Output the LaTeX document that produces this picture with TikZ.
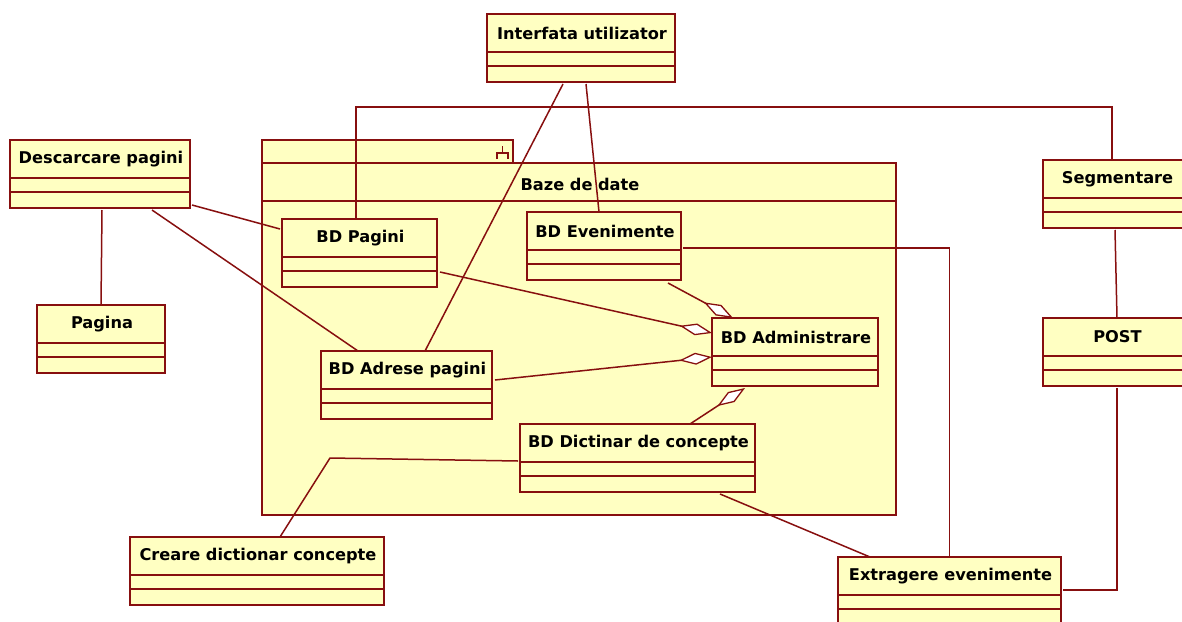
\documentclass[tikz,border=0pt]{standalone}
\usepackage{fontspec}
\setmainfont{DejaVu Sans}
\usetikzlibrary{arrows.meta,calc}
\definecolor{umlred}{RGB}{135,15,15}
\definecolor{umlfill}{RGB}{255,255,194}
\tikzset{
  clsbox/.style={draw=umlred, fill=umlfill, line width=1.6pt, rectangle, inner sep=0pt, outer sep=0pt},
  clstext/.style={font=\fontsize{16.2}{19}\selectfont\bfseries, text=black, inner sep=0pt},
  umlline/.style={draw=umlred, line width=1.6pt},
  conn/.style={draw=umlred, line width=1.5pt},
  agg/.style={conn, -{Diamond[fill=white, length=33pt, width=12pt, line width=1.3pt]}},
}
\newcommand{\umlclass}[6]{%
  \node[clsbox, anchor=north west, minimum width={(#4-#2)*1pt}, minimum height={(#5-#3)*1pt}] (#1) at (#2,#3) {};
  \draw[umlline] (#2,{#3+38}) -- (#4,{#3+38});
  \draw[umlline] (#2,{#3+52}) -- (#4,{#3+52});
  \node[clstext] (#1-t) at ({(#2+#4)/2+1},{#3+19}) {#6};
}
\begin{document}
\begin{tikzpicture}[x=1pt,y=-1pt]
\useasboundingbox (0,0) rectangle (1182,621);
% package
\node[clsbox, anchor=north west, minimum width=251pt, minimum height=23pt] (pkgtab) at (262,140) {};
\node[clsbox, anchor=north west, minimum width=634pt, minimum height=352pt] (pkg) at (262,163) {};
\draw[umlline] (pkg.north west) ++(0,38) -- ++(634,0);
\node[clstext] (pkgtitle) at (580,184) {Baze de date};
\draw[umlred, line width=1.3pt] (502.5,146) -- (502.5,153) (497,159) -- (497,153) -- (508,153) -- (508,159);
% classes
\umlclass{if}{487}{14}{675}{82}{Interfata utilizator}
\umlclass{desc}{10}{140}{190}{208}{Descarcare pagini}
\umlclass{pagina}{37}{305}{165}{373}{Pagina}
\umlclass{seg}{1043}{160}{1190}{228}{Segmentare}
\umlclass{post}{1043}{318}{1190}{386}{POST}
\umlclass{ext}{838}{557}{1061}{625}{Extragere evenimente}
\umlclass{pag}{282}{219}{437}{287}{BD Pagini}
\umlclass{ev}{527}{212}{681}{280}{BD Evenimente}
\umlclass{adm}{712}{318}{878}{386}{BD Administrare}
\umlclass{adr}{321}{351}{492}{419}{BD Adrese pagini}
\umlclass{dic}{520}{424}{755}{492}{BD Dictinar de concepte}
\umlclass{creare}{130}{537}{384}{605}{Creare dictionar concepte}
% connectors
\draw[conn] ($(if.south)+(-18,2)$) -- ($(adr.north)+(18.5,0)$);
\draw[conn] ($(if.south)+(5,2)$) -- ($(ev.north)+(-5,0)$);
\draw[conn] ($(pag.north)+(-3.5,0)$) |- ($(seg.north)+(-4.5,-53)$) -- ($(seg.north)+(-4.5,0)$);
\draw[conn] ($(desc.south east)+(2,-3)$) -- ($(pag.north west)+(-2,10)$);
\draw[conn] ($(desc.south)+(52,2)$) -- ($(adr.north)+(-48.5,0)$);
\draw[conn] ($(desc.south)+(2,2)$) -- (pagina.north);
\draw[agg] ($(pag.east)+(3,19)$) -- ($(adm.west)+(0,-19)$);
\draw[agg] ($(adr.east)+(3,-5)$) -- ($(adm.west)+(0,5)$);
\draw[agg] ($(ev.south)+(64,3)$) -- ($(adm.north west)+(21,0)$);
\draw[agg] ($(dic.north)+(52.5,0)$) -- ($(adm.south west)+(33,2)$);
\draw[conn] ($(ev.east)+(2,2)$) -| (ext.north);
\draw[conn] ($(dic.south)+(82.5,2)$) -- ($(ext.north west)+(32,0)$);
\draw[conn] ($(dic.west)+(-2,3)$) -- ($(dic.west)+(-190,0)$) -- ($(creare.north)+(23,0)$);
\draw[conn] ($(seg.south)+(-1.5,2)$) -- ($(post.north)+(0.5,0)$);
\draw[conn] ($(post.south)+(0.5,2)$) |- ($(ext.east)+(2,-1)$);
\end{tikzpicture}
\end{document}
